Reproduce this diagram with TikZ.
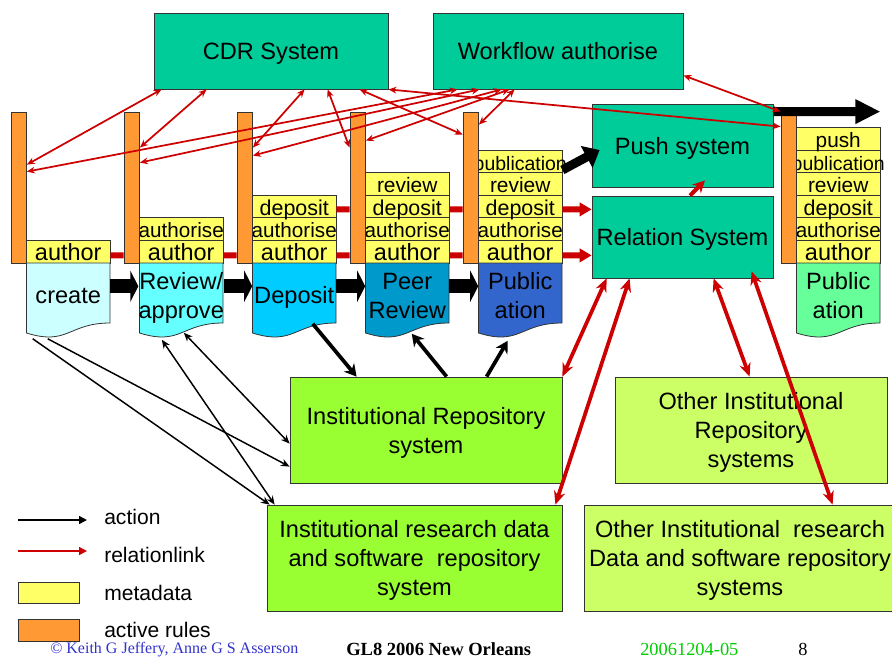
\documentclass[tikz,border=0pt]{standalone}
\usepackage{fontspec}
\setmainfont{Liberation Sans}
\newfontfamily\tnr{Liberation Serif}
\usetikzlibrary{arrows.meta,calc}
\definecolor{tealbox}{HTML}{00CC99}
\definecolor{limebox}{HTML}{99FF33}
\definecolor{palelime}{HTML}{CCFF66}
\definecolor{metay}{HTML}{FFFF66}
\definecolor{ruleo}{HTML}{FF9933}
\definecolor{relred}{HTML}{CC0000}
\definecolor{docA}{HTML}{CCFFFF}
\definecolor{docB}{HTML}{66FFFF}
\definecolor{docC}{HTML}{00CCFF}
\definecolor{docD}{HTML}{0099CC}
\definecolor{docE}{HTML}{3366CC}
\definecolor{docF}{HTML}{66FF99}
\definecolor{footblue}{HTML}{3333CC}
\definecolor{footgreen}{HTML}{00CC00}
\definecolor{edgegray}{HTML}{333333}
\newcommand\mainf{\fontsize{17.7pt}{21.75pt}\selectfont}
\newcommand\dstrut{\rule[-4pt]{0pt}{17.5pt}}
% box node: style, name, x0, y0, x1, y1, text
\newcommand\bx[7]{\node[#1, minimum width={(#5-#3)*0.75pt}, minimum height={(#6-#4)*0.75pt}] (#2) at ({(#3+#5)/2},{(#4+#6)/2}) {#7};}
% metadata cell: name, x0, row, font size, text
\newcommand\mcell[5]{\node[cellbox, minimum width=83.5*0.75pt, minimum height=22.6*0.75pt] (#1) at ({#2+41.75},{251.7-22.6*#3}) {\fontsize{#4pt}{#4pt}\selectfont\makebox[0pt]{#5}};}
% document: name, x0, colour, text
\newcommand\mdoc[4]{%
  \filldraw[docline, fill=#3] (#2,263) -- ({#2+83.5},263) -- ({#2+83.5},323) .. controls ({#2+41.75},323) and ({#2+41.75},346) .. (#2,333) -- cycle;
  \node[doctxt, minimum width=83.5*0.75pt, minimum height=70*0.75pt] (#1) at ({#2+41.75},297.5) {#4};}
\begin{document}
\begin{tikzpicture}[x=0.75pt, y=-0.75pt,
  sys/.style={draw=edgegray, line width=0.6pt, fill=tealbox, inner sep=0pt, font=\mainf, align=center, text depth=-2pt},
  lbox/.style={sys, fill=limebox},
  pbox/.style={sys, fill=palelime},
  cellbox/.style={draw=edgegray, line width=0.6pt, fill=metay, inner sep=0pt, text height=15.05pt, text depth=1.9pt},
  rulebar/.style={draw=edgegray, line width=0.6pt, fill=ruleo, inner sep=0pt},
  docline/.style={draw=edgegray, line width=0.6pt},
  doctxt/.style={inner sep=0pt, font=\mainf, align=center},
  rl/.style={draw=relred, line width=1.3pt, {Stealth[length=6pt,width=5pt]}-{Stealth[length=6pt,width=5pt]}},
  rlt/.style={draw=relred, line width=2.8pt, {Stealth[length=10pt,width=8.5pt]}-{Stealth[length=10pt,width=8.5pt]}},
  rbar/.style={draw=relred, line width=4.5pt},
  act/.style={draw=black, line width=1.1pt, -{Stealth[length=6.5pt,width=5.5pt]}},
  actd/.style={draw=black, line width=1.1pt, {Stealth[length=6.5pt,width=5.5pt]}-{Stealth[length=6.5pt,width=5.5pt]}},
  actt/.style={draw=black, line width=2.8pt, -{Stealth[length=9pt,width=10pt]}},
  blockarr/.style={draw=black, line width=10.5pt, -{Triangle[length=6pt,width=23.25pt]}},
  legtext/.style={anchor=base west, inner sep=0pt, font=\fontsize{15.8pt}{15.8pt}\selectfont},
  legbox/.style={draw=edgegray, line width=0.6pt, inner sep=0pt},
]
\useasboundingbox (0,0) rectangle (892,657);
\clip (0,0) rectangle (892,657);
\fill[white] (0,0) rectangle (892,657);

% system boxes
\bx{sys}{cdr}{154}{13}{388}{89}{CDR System}
\bx{sys}{wf}{433}{13}{683}{89}{Workflow authorise}
\bx{sys}{push}{592}{104}{773}{187}{Push system}
\bx{sys}{rel}{592}{196}{773}{278}{Relation System}
\bx{lbox}{irs}{290}{377}{562}{483}{Institutional Repository\\system}
\bx{lbox}{ird}{267}{505}{562}{611}{Institutional research data\\and software\ \ repository\\system}
\bx{pbox}{oir}{615}{377}{887}{483}{Other Institutional\\Repository\\systems}
\bx{pbox}{ord}{584}{505}{896}{611}{Other Institutional\ \ research\\Data and software repository\\systems}

% metadata cells
\mcell{c1a}{26.5}{0}{17.6}{author}
\mcell{c2a}{139.5}{0}{17.6}{author}
\mcell{c2b}{139.5}{1}{15.5}{authorise}
\mcell{c3a}{252.5}{0}{17.6}{author}
\mcell{c3b}{252.5}{1}{15.5}{authorise}
\mcell{c3d}{252.5}{2}{16.1}{deposit}
\mcell{c4a}{365.5}{0}{17.6}{author}
\mcell{c4b}{365.5}{1}{15.5}{authorise}
\mcell{c4d}{365.5}{2}{16.1}{deposit}
\mcell{c4r}{365.5}{3}{15.7}{review}
\mcell{c5a}{478.5}{0}{17.6}{author}
\mcell{c5b}{478.5}{1}{15.5}{authorise}
\mcell{c5d}{478.5}{2}{16.1}{deposit}
\mcell{c5r}{478.5}{3}{15.7}{review}
\mcell{c5p}{478.5}{4}{14.6}{publication}
\mcell{c6a}{796.5}{0}{17.6}{author}
\mcell{c6b}{796.5}{1}{15.5}{authorise}
\mcell{c6d}{796.5}{2}{16.1}{deposit}
\mcell{c6r}{796.5}{3}{15.7}{review}
\mcell{c6p}{796.5}{4}{14.6}{publication}
\mcell{c6s}{796.5}{5}{15.6}{push}

% active rules bars
\bx{rulebar}{r1}{11}{112}{26.5}{263}{}
\bx{rulebar}{r2}{124}{112}{139.5}{263}{}
\bx{rulebar}{r3}{237}{112}{252.5}{263}{}
\bx{rulebar}{r4}{350}{112}{365.5}{263}{}
\bx{rulebar}{r5}{463}{112}{478.5}{263}{}
\bx{rulebar}{r6}{781}{112}{796.5}{263}{}

% documents
\mdoc{d1}{26.5}{docA}{\dstrut create}
\mdoc{d2}{139.5}{docB}{\dstrut Review/\\\dstrut approve}
\mdoc{d3}{252.5}{docC}{\dstrut Deposit}
\mdoc{d4}{365.5}{docD}{\dstrut Peer\\\dstrut Review}
\mdoc{d5}{478.5}{docE}{\dstrut Public\\\dstrut ation}
\mdoc{d6}{796.5}{docF}{\dstrut Public\\\dstrut ation}

% workflow block arrows
\draw[blockarr] ($(d1.north east)+(0,24)$) -- ($(d2.north west)+(0,24)$);
\draw[blockarr] ($(d2.north east)+(0,24)$) -- ($(d3.north west)+(0,24)$);
\draw[blockarr] ($(d3.north east)+(0,24)$) -- ($(d4.north west)+(0,24)$);
\draw[blockarr] ($(d4.north east)+(0,24)$) -- ($(d5.north west)+(0,24)$);

% metadata relation bars
\draw[rbar] ($(c1a.south east)+(0,-8)$) -- ($(r2.south west)+(0,-8)$);
\draw[rbar] ($(c2a.south east)+(0,-8)$) -- ($(r3.south west)+(0,-8)$);
\draw[rbar] ($(c3a.south east)+(0,-8)$) -- ($(r4.south west)+(0,-8)$);
\draw[rbar] ($(c4a.south east)+(0,-8)$) -- ($(r5.south west)+(0,-8)$);
\draw[rbar] ($(c3d.south east)+(0,-8.8)$) -- ($(r4.south west)+(0,-54)$);
\draw[rbar] ($(c4d.south east)+(0,-8.8)$) -- ($(r5.south west)+(0,-54)$);
\draw[rbar, -{Triangle[length=9pt,width=10pt]}] ($(c5a.south east)+(0,-8)$) -- ($(rel.south west)+(0,-23)$);
\draw[rbar, -{Triangle[length=9pt,width=10pt]}] ($(c5d.south east)+(0,-8.8)$) -- ($(rel.south west)+(0,-69)$);
\draw[draw=relred, line width=3pt, -{Stealth[length=9pt,width=9pt]}] ($(rel.north)+(7.5,0)$) -- ($(push.south)+(22.5,-7)$);

% publication to push, push onward
\draw[draw=black, line width=6.75pt, -{Triangle[length=11pt,width=18pt]}] ($(c5p.south east)+(0,-3)$) -- ($(push.west)+(8,4.5)$);
\draw[draw=black, line width=6.75pt, -{Triangle[length=18.75pt,width=17.25pt]}] ($(push.north east)+(0,8)$) -- ($(c6s.north east)+(0,-15.4)$);

% thin relation links from CDR and Workflow
\draw[rl] ($(cdr.south west)+(8,0)$) -- ($(r1.north east)+(0,53)$);
\draw[rl] ($(cdr.south west)+(53,0)$) -- ($(r2.north east)+(0,36)$);
\draw[rl] ($(cdr.south west)+(151,0)$) -- ($(r3.north east)+(0,36)$);
\draw[rl] ($(cdr.south west)+(174,0)$) -- ($(r4.north west)+(0,36)$);
\draw[rl] ($(cdr.south west)+(206,0)$) -- ($(r5.north west)+(0,23)$);
\draw[rl] (cdr.south east) -- ($(r6.north west)+(0,15)$);
\draw[rl] ($(wf.south east)+(0,-14)$) -- (r6.north west);
\draw[rl] ($(wf.south west)+(25,0)$) -- ($(r1.north east)+(0,60)$);
\draw[rl] ($(wf.south west)+(47,0)$) -- ($(r2.north east)+(0,51)$);
\draw[rl] ($(wf.south west)+(69,0)$) -- ($(r3.north east)+(0,44)$);
\draw[rl] ($(wf.south west)+(77,0)$) -- ($(r4.north east)+(0,29)$);
\draw[rl] ($(wf.south west)+(82,0)$) -- ($(r5.north east)+(0,13)$);

% actions
\draw[actt] ($(d3.south west)+(60.5,-9)$) -- ($(irs.north west)+(67,0)$);
\draw[actt] ($(irs.north west)+(157,0)$) -- ($(d4.south west)+(46.5,1)$);
\draw[actt] ($(irs.north west)+(197,0)$) -- ($(d5.south west)+(29.5,8)$);
\draw[act] ($(d1.south west)+(6.5,6)$) -- ($(ird.north west)+(3,0)$);
\draw[act] ($(d1.south west)+(21.5,6)$) -- ($(irs.north west)+(0,90)$);
\draw[actd] ($(d2.south west)+(45.5,0)$) -- ($(irs.north west)+(0,67)$);
\draw[actd] ($(d2.south west)+(23.5,7)$) -- ($(ird.north west)+(8,0)$);

% relation system links
\draw[rlt] ($(rel.south west)+(15,0)$) -- (irs.north east);
\draw[rlt] ($(rel.south west)+(38,0)$) -- ($(ird.north east)+(-7,0)$);
\draw[rlt] ($(rel.south west)+(122,0)$) -- ($(oir.north west)+(135,0)$);
\draw[rlt] ($(rel.south west)+(160,-7)$) -- ($(ord.north west)+(249,0)$);

% legend
\coordinate (la1) at (18,520); \coordinate (la2) at (87,520);
\coordinate (lr1) at (18,551); \coordinate (lr2) at (87,551);
\draw[draw=black, line width=1.1pt, -{Triangle[length=6pt,width=6pt]}] (la1) -- (la2);
\draw[draw=relred, line width=1.1pt, -{Triangle[length=6pt,width=6pt]}] (lr1) -- (lr2);
\bx{legbox, fill=metay}{lm}{18}{582}{79}{603}{}
\bx{legbox, fill=ruleo}{lo}{18}{619}{79}{641}{}
\node[legtext] (lt1) at (104,524) {action};
\node[legtext] (lt2) at (104,562) {relationlink};
\node[legtext] (lt3) at (104,600) {metadata};
\node[legtext] (lt4) at (104,637) {active rules};

% footer
\node[anchor=base west, inner sep=0pt, text=footblue, font=\tnr\fontsize{12pt}{12pt}\selectfont] (f1) at (50,653.5) {© Keith G Jeffery, Anne G S Asserson};
\node[anchor=base west, inner sep=0pt, font=\tnr\bfseries\fontsize{13.9pt}{13.9pt}\selectfont] (f2) at (346,655) {GL8 2006 New Orleans};
\node[anchor=base west, inner sep=0pt, text=footgreen, font=\tnr\fontsize{13.8pt}{13.8pt}\selectfont] (f3) at (640,655) {20061204-05};
\node[anchor=base west, inner sep=0pt, font=\tnr\fontsize{13.8pt}{13.8pt}\selectfont] (f4) at (798,655) {8};
\end{tikzpicture}
\end{document}
